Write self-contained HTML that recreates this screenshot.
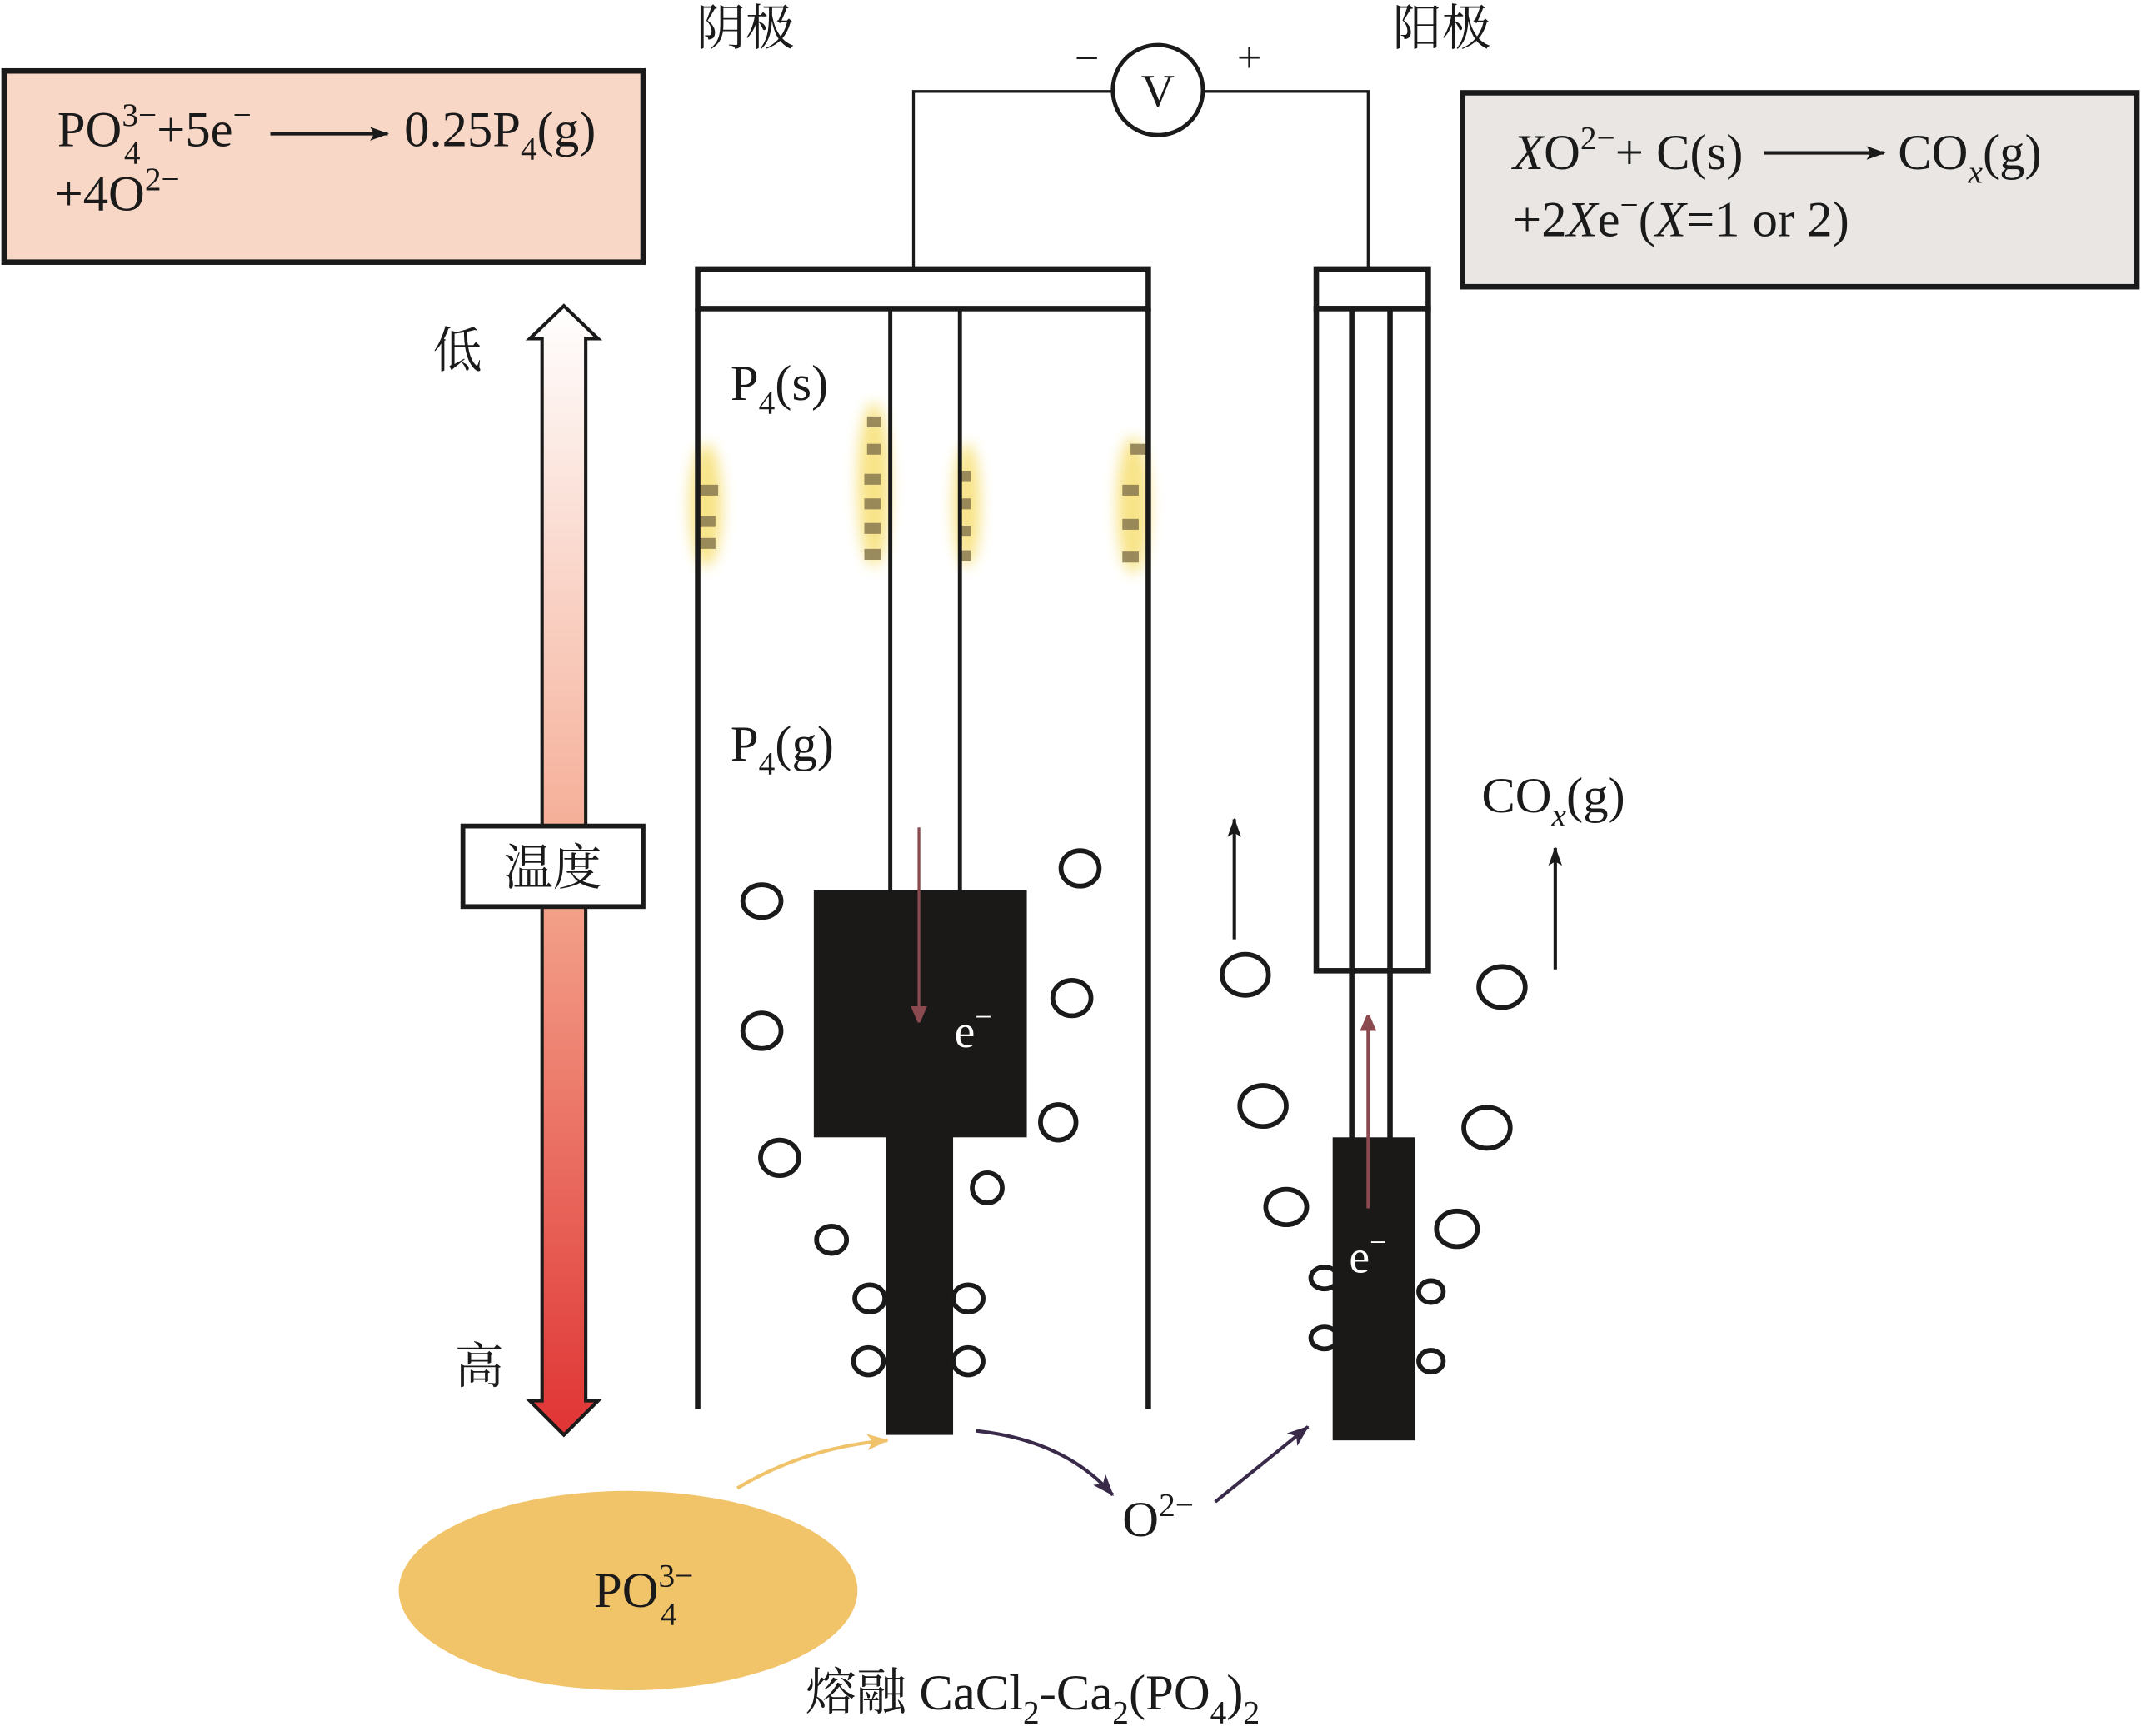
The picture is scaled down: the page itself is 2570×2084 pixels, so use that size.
<!DOCTYPE html>
<html><head><meta charset="utf-8"><style>
html,body{margin:0;padding:0;background:#fff;}
svg{display:block;}
text{font-family:"Liberation Serif","Noto Serif CJK SC",serif;fill:#1a1a1a;}
.cjk{font-family:"Liberation Serif","Noto Serif CJK SC","Noto Sans CJK SC",serif;}
</style></head><body>
<svg width="2570" height="2084" viewBox="0 0 1568 1271.5" preserveAspectRatio="none" xmlns="http://www.w3.org/2000/svg">
<defs>
<linearGradient id="tg" x1="0" y1="0" x2="0" y2="1">
<stop offset="0" stop-color="#ffffff"/><stop offset="0.5" stop-color="#f4a88f"/><stop offset="1" stop-color="#e03434"/>
</linearGradient>
<filter id="bl" x="-1" y="-1" width="3" height="3"><feGaussianBlur stdDeviation="5"/></filter>
<marker id="ak" markerWidth="14" markerHeight="10" refX="13" refY="5" orient="auto" markerUnits="userSpaceOnUse"><path d="M0,0 L14,5 L0,10 L3,5 z" fill="#1a1a1a"/></marker>
<marker id="ar" markerWidth="12" markerHeight="14" refX="11" refY="6" orient="auto" markerUnits="userSpaceOnUse"><path d="M0,0 L14,6 L0,12 z" fill="#8a4a50"/></marker>
<marker id="ap" markerWidth="16" markerHeight="12" refX="15" refY="6" orient="auto" markerUnits="userSpaceOnUse"><path d="M0,0 L16,6 L0,12 L4,6 z" fill="#3a2a4a"/></marker>
<marker id="ay" markerWidth="16" markerHeight="12" refX="15" refY="6" orient="auto" markerUnits="userSpaceOnUse"><path d="M0,0 L16,6 L0,12 L4,6 z" fill="#f0c36a"/></marker>
</defs>

<rect x="3" y="52" width="468" height="140" fill="#f9d7c6" stroke="#1a1a1a" stroke-width="4"/>
<text x="42" y="107" font-size="37">PO<tspan font-size="24" dy="-15">3−</tspan><tspan font-size="24" dx="-24" dy="28">4</tspan><tspan dy="-13" dx="12">+5e</tspan><tspan font-size="24" dy="-15">−</tspan></text>
<line x1="198" y1="98" x2="284" y2="98" stroke="#1a1a1a" stroke-width="2.5" marker-end="url(#ak)"/>
<text x="296" y="107" font-size="37">0.25P<tspan font-size="24" dy="10">4</tspan><tspan dy="-10">(g)</tspan></text>
<text x="40" y="154" font-size="37">+4O<tspan font-size="24" dy="-15">2−</tspan></text>

<rect x="1071" y="68" width="494" height="142" fill="#e9e6e3" stroke="#1a1a1a" stroke-width="4"/>
<text x="1108" y="124" font-size="37"><tspan font-style="italic">X</tspan>O<tspan font-size="24" dy="-15">2−</tspan><tspan dy="15">+ C(s)</tspan></text>
<line x1="1292" y1="112" x2="1380" y2="112" stroke="#1a1a1a" stroke-width="2.5" marker-end="url(#ak)"/>
<text x="1390" y="124" font-size="37">CO<tspan font-size="24" font-style="italic" dy="10">x</tspan><tspan dy="-10">(g)</tspan></text>
<text x="1108" y="173" font-size="37">+2<tspan font-style="italic">X</tspan>e<tspan font-size="24" dy="-15">−</tspan><tspan dy="15">(</tspan><tspan font-style="italic">X</tspan>=1 or 2)</text>

<text class="cjk" x="510" y="33" font-size="36">阴极</text>
<text class="cjk" x="1020" y="33" font-size="36">阳极</text>

<path d="M669,196 V67 H815 M881,67 H1002 V196" fill="none" stroke="#1a1a1a" stroke-width="2"/>
<circle cx="848" cy="66" r="33" fill="#fff" stroke="#1a1a1a" stroke-width="3"/>
<text x="848" y="78" font-size="34" text-anchor="middle">V</text>
<text x="796" y="53" font-size="32" text-anchor="middle">−</text>
<text x="915" y="53" font-size="32" text-anchor="middle">+</text>

<g filter="url(#bl)" fill="#f7e17a" opacity="0.9">
<ellipse cx="517" cy="370" rx="12" ry="45"/>
<ellipse cx="640" cy="355" rx="12" ry="60"/>
<ellipse cx="708" cy="370" rx="10" ry="45"/>
<ellipse cx="830" cy="370" rx="12" ry="50"/>
</g>
<g fill="#8a7a50" opacity="0.85">
<rect x="512" y="355" width="14" height="8"/><rect x="512" y="378" width="12" height="8"/><rect x="512" y="394" width="12" height="8"/>
<rect x="635" y="305" width="10" height="8"/><rect x="635" y="325" width="10" height="8"/><rect x="633" y="347" width="12" height="8"/><rect x="633" y="365" width="12" height="8"/><rect x="633" y="383" width="12" height="8"/><rect x="633" y="402" width="12" height="8"/>
<rect x="703" y="345" width="8" height="8"/><rect x="703" y="365" width="8" height="8"/><rect x="703" y="385" width="8" height="8"/><rect x="703" y="403" width="8" height="8"/>
<rect x="828" y="325" width="12" height="8"/><rect x="822" y="355" width="12" height="8"/><rect x="822" y="380" width="12" height="8"/><rect x="822" y="404" width="12" height="8"/>
</g>

<g stroke="#1a1a1a" stroke-width="4" fill="none">
<rect x="511" y="197" width="330" height="29" fill="#fff"/>
<path d="M511,226 V1032 M841,226 V1032"/>
<path d="M652,226 V652 M703,226 V652" stroke-width="3"/>
</g>
<rect x="596" y="652" width="156" height="181" fill="#1b1918"/>
<rect x="649" y="826" width="49" height="225" fill="#1b1918"/>
<line x1="673" y1="606" x2="673" y2="748" stroke="#8a4a50" stroke-width="2" marker-end="url(#ar)"/>
<text x="699" y="767" font-size="34" style="fill:#fff">e<tspan font-size="22" dy="-15">−</tspan></text>

<g stroke="#1a1a1a" stroke-width="4" fill="none">
<rect x="964" y="197" width="82" height="29" fill="#fff"/>
<rect x="964" y="226" width="82" height="485" fill="#fff"/>
<path d="M990,226 V835 M1018,226 V835"/>
</g>
<rect x="976" y="833" width="60" height="222" fill="#1b1918"/>
<line x1="1002" y1="885" x2="1002" y2="744" stroke="#8a4a50" stroke-width="2.5" marker-end="url(#ar)"/>
<text x="988" y="932" font-size="34" style="fill:#fff">e<tspan font-size="22" dy="-15">−</tspan></text>

<g fill="none" stroke="#1a1a1a" stroke-width="3.5">
<ellipse cx="558" cy="660" rx="14" ry="12"/>
<ellipse cx="791" cy="636" rx="14" ry="13"/>
<ellipse cx="558" cy="755" rx="14" ry="13"/>
<ellipse cx="785" cy="731" rx="14" ry="13"/>
<ellipse cx="571" cy="848" rx="14" ry="13"/>
<ellipse cx="775" cy="822" rx="13" ry="13"/>
<ellipse cx="723" cy="870" rx="11" ry="11"/>
<ellipse cx="609" cy="908" rx="11" ry="10"/>
<ellipse cx="637" cy="951" rx="11" ry="10"/>
<ellipse cx="709" cy="951" rx="11" ry="10"/>
<ellipse cx="636" cy="997" rx="11" ry="10"/>
<ellipse cx="709" cy="997" rx="11" ry="10"/>
<ellipse cx="912" cy="714" rx="17" ry="15"/>
<ellipse cx="925" cy="810" rx="17" ry="15"/>
<ellipse cx="942" cy="884" rx="15" ry="13"/>
<ellipse cx="970" cy="936" rx="10" ry="8"/>
<ellipse cx="970" cy="980" rx="10" ry="8"/>
<ellipse cx="1100" cy="723" rx="17" ry="15"/>
<ellipse cx="1089" cy="826" rx="17" ry="15"/>
<ellipse cx="1067" cy="900" rx="15" ry="13"/>
<ellipse cx="1048" cy="946" rx="9" ry="8"/>
<ellipse cx="1048" cy="997" rx="9" ry="8"/>
</g>
<line x1="904" y1="688" x2="904" y2="600" stroke="#1a1a1a" stroke-width="2.5" marker-end="url(#ak)"/>
<line x1="1139" y1="710" x2="1139" y2="621" stroke="#1a1a1a" stroke-width="2.5" marker-end="url(#ak)"/>
<text x="1085" y="595" font-size="37">CO<tspan font-size="24" font-style="italic" dy="10">x</tspan><tspan dy="-10">(g)</tspan></text>

<text x="535" y="293" font-size="37">P<tspan font-size="24" dy="10">4</tspan><tspan dy="-10">(s)</tspan></text>
<text x="535" y="557" font-size="37">P<tspan font-size="24" dy="10">4</tspan><tspan dy="-10">(g)</tspan></text>

<path d="M413,224 L438,248 L429,248 L429,1026 L438,1026 L413,1051 L388,1026 L397,1026 L397,248 L388,248 Z" fill="url(#tg)" stroke="#1a1a1a" stroke-width="2.5"/>
<rect x="339" y="605" width="132" height="59" fill="#fff" stroke="#1a1a1a" stroke-width="3.5"/>
<text class="cjk" x="405" y="648" font-size="36" text-anchor="middle">温度</text>
<text class="cjk" x="317" y="269" font-size="36">低</text>
<text class="cjk" x="333" y="1013" font-size="36">高</text>

<ellipse cx="460" cy="1165" rx="168" ry="73" fill="#f2c46a"/>
<text x="435" y="1177" font-size="37">PO<tspan font-size="24" dy="-15">3−</tspan><tspan font-size="24" dx="-24" dy="28">4</tspan></text>
<text class="cjk" x="590" y="1252" font-size="37">熔融 CaCl<tspan font-size="24" dy="10">2</tspan><tspan dy="-10">-Ca</tspan><tspan font-size="24" dy="10">2</tspan><tspan dy="-10">(PO</tspan><tspan font-size="24" dy="10">4</tspan><tspan dy="-10">)</tspan><tspan font-size="24" dy="10">2</tspan></text>

<path d="M540,1090 Q590,1060 650,1055" fill="none" stroke="#f0c36a" stroke-width="2.5" marker-end="url(#ay)"/>
<path d="M715,1048 Q780,1055 815,1095" fill="none" stroke="#3a2a4a" stroke-width="2.5" marker-end="url(#ap)"/>
<line x1="890" y1="1100" x2="958" y2="1045" stroke="#3a2a4a" stroke-width="2.5" marker-end="url(#ap)"/>
<text x="822" y="1125" font-size="37">O<tspan font-size="24" dy="-15">2−</tspan></text>
</svg>
</body></html>
